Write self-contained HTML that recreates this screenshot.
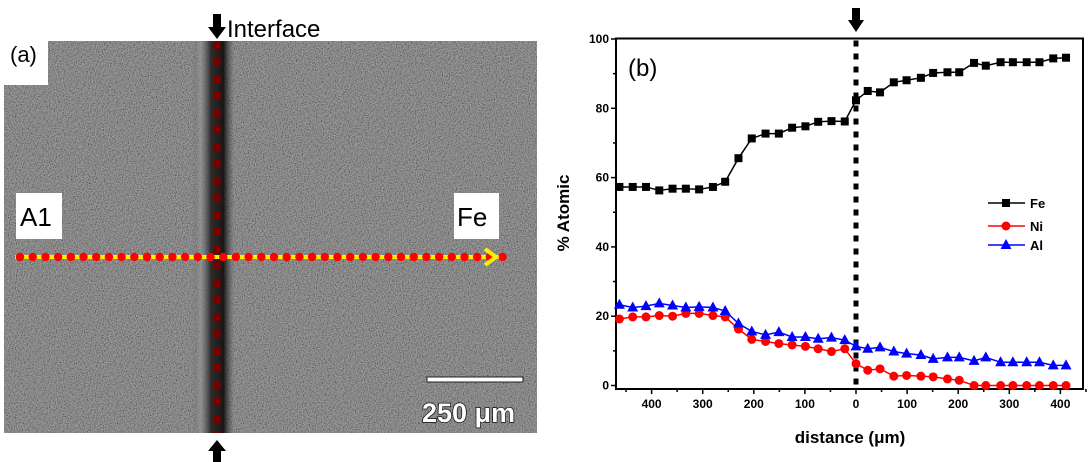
<!DOCTYPE html>
<html><head><meta charset="utf-8">
<style>
body{margin:0;width:1092px;height:462px;background:#fff;overflow:hidden;font-family:"Liberation Sans",Arial,sans-serif}
svg{position:absolute;left:0;top:0}
</style></head>
<body>
<svg width="1092" height="462">
<defs>
<filter id="noise" x="0" y="0" width="100%" height="100%">
<feTurbulence type="fractalNoise" baseFrequency="0.85" numOctaves="2" seed="3"/>
<feColorMatrix type="matrix" values="1.3 0 0 0 -0.28  1.3 0 0 0 -0.28  1.3 0 0 0 -0.28  0 0 0 0 0.45"/>
</filter>
<clipPath id="semclip"><path d="M48 41 H537 V433 H4 V85 H48 Z"/></clipPath>
<linearGradient id="band" x1="0" x2="1" y1="0" y2="0">
<stop offset="0" stop-color="#555" stop-opacity="0"/>
<stop offset="0.2" stop-color="#999" stop-opacity="0.6"/>
<stop offset="0.45" stop-color="#222" stop-opacity="0.9"/>
<stop offset="0.75" stop-color="#111" stop-opacity="0.95"/>
<stop offset="1" stop-color="#444" stop-opacity="0"/>
</linearGradient>
</defs>
<g>
<path d="M48 41 H537 V433 H4 V85 H48 Z" fill="#727272"/>
<g clip-path="url(#semclip)"><rect x="4" y="41" width="533" height="392" fill="#727272" filter="url(#noise)"/></g>
<rect x="192" y="41" width="42" height="392" fill="url(#band)"/>
<text x="10" y="62" font-size="22" fill="#000">(a)</text>
<rect x="16" y="193" width="46" height="46" fill="#fff"/>
<text x="20" y="226" font-size="26" fill="#000">A1</text>
<rect x="454" y="193" width="45" height="46" fill="#fff"/>
<text x="457" y="226" font-size="26" fill="#000">Fe</text>
<line x1="217" y1="41" x2="217" y2="433" stroke="#7a0000" stroke-width="7" stroke-dasharray="8,9"/>
<line x1="15" y1="257" x2="500" y2="257" stroke="#ffee00" stroke-width="4"/>
<g id="scandots"></g>
<path d="M485 249 L496 257 L485 265" fill="none" stroke="#ffee00" stroke-width="4"/>
<rect x="427" y="377" width="96" height="5" fill="#fff" stroke="#222" stroke-width="1"/>
<text x="422" y="422" font-size="27" font-weight="bold" fill="#fff" stroke="#111" stroke-width="1.5" paint-order="stroke">250 μm</text>
<path d="M213 14 H221 V27 H226 L217 39 L208 27 H213 Z" fill="#000"/>
<path d="M213 462 H221 V451 H226 L217 440 L208 451 H213 Z" fill="#000"/>
<text x="227" y="37" font-size="24" fill="#000">Interface</text>
</g>
<g id="chart"></g>
</svg>
<script>
const distances=[-463,-437,-411,-385,-359,-333,-307,-280,-256,-230,-204,-177,-151,-125,-99,-74,-48,-22,0,23,47,74,99,127,151,179,202,231,254,283,307,334,359,386,411];
const feValues=[57.3,57.3,57.3,56.3,56.8,56.8,56.6,57.3,58.8,65.6,71.3,72.7,72.7,74.4,74.8,76.1,76.3,76.2,82.3,85,84.6,87.5,88.1,88.8,90.2,90.4,90.4,93.1,92.3,93.3,93.3,93.3,93.3,94.4,94.6];
const niValues=[19.2,19.8,19.8,20.2,20.0,20.8,20.8,20.2,19.8,16.3,13.3,12.7,12.1,11.7,11.3,10.6,9.8,10.6,6.3,4.4,4.8,2.7,2.9,2.7,2.5,1.9,1.5,0,0,0,0,0,0,0,0];
const alValues=[23.3,22.5,22.9,23.7,23.1,22.5,22.7,22.5,21.5,17.9,15.6,14.6,15.4,14.0,14.0,13.5,13.8,13.1,11.3,10.6,11.0,9.8,9.2,8.8,7.7,8.1,8.1,7.1,8.1,6.7,6.7,6.7,6.7,5.8,5.8];
const xTicks=[-400,-300,-200,-100,0,100,200,300,400];
const yTicks=[0,20,40,60,80,100];

const NS="http://www.w3.org/2000/svg";
function mk(tag,attrs,parent){const e=document.createElementNS(NS,tag);for(const k in attrs)e.setAttribute(k,attrs[k]);parent.appendChild(e);return e;}
const L=616,R=1083,T=38.5,B=389;
const xs=d=>856+d*0.511;
const ys=v=>385.5-v*3.465;
const g=document.getElementById('chart');

const sd=document.getElementById('scandots');
for(let x=20;x<=506;x+=12.7){const c=mk('circle',{cx:x,cy:257,r:4.2,fill:'#ff0000'},sd);

}

const frame=mk('rect',{x:L,y:T,width:R-L,height:B-T,fill:'none',stroke:'#000','stroke-width':2},g);


yTicks.forEach(v=>{
  mk('line',{x1:L,x2:L-5,y1:ys(v),y2:ys(v),stroke:'#000','stroke-width':1.5},g);
  const t=mk('text',{x:L-7,y:ys(v)+4,'text-anchor':'end','font-size':12,'font-weight':'bold'},g);
  t.textContent=v;
  
  
  if(v<100) mk('line',{x1:L,x2:L-3,y1:ys(v+10),y2:ys(v+10),stroke:'#000','stroke-width':1.5},g);
});
xTicks.forEach(v=>{
  mk('line',{x1:xs(v),x2:xs(v),y1:B,y2:B+5,stroke:'#000','stroke-width':1.5},g);
  mk('line',{x1:xs(v+50),x2:xs(v+50),y1:B,y2:B+3,stroke:'#000','stroke-width':1.5},g);
  const t=mk('text',{x:xs(v),y:B+19,'text-anchor':'middle','font-size':12,'font-weight':'bold'},g);
  t.textContent=Math.abs(v);
  
  
});
mk('line',{x1:xs(-450),x2:xs(-450),y1:B,y2:B+3,stroke:'#000','stroke-width':1.5},g);
const xl=mk('text',{x:850,y:443,'text-anchor':'middle','font-size':17,'font-weight':'bold'},g);
xl.textContent='distance (μm)';


const yl=mk('text',{x:0,y:0,'text-anchor':'middle','font-size':17,'font-weight':'bold',transform:'translate(569,213) rotate(-90)'},g);
yl.textContent='% Atomic';


const pb=mk('text',{x:628,y:76,'font-size':24},g);
pb.textContent='(b)';


const dl=mk('line',{x1:xs(0),x2:xs(0),y1:T+2,y2:B,stroke:'#000','stroke-width':5,'stroke-dasharray':'6,7'},g);


mk('path',{d:`M${xs(0)-4} 8 H${xs(0)+4} V20 H${xs(0)+8} L${xs(0)} 32 L${xs(0)-8} 20 H${xs(0)-4} Z`,fill:'#000'},g);

function marker(type,x,y,color,parent){
  if(type==='sq') return mk('rect',{x:x-4,y:y-4,width:8,height:8,fill:color},parent);
  if(type==='ci') return mk('circle',{cx:x,cy:y,r:4.5,fill:color},parent);
  return mk('path',{d:`M${x} ${y-6} L${x+5.5} ${y+4} L${x-5.5} ${y+4} Z`,fill:color},parent);
}
const series=[['fe',feValues,'#000','sq'],['ni',niValues,'#ff0000','ci'],['al',alValues,'#0000ff','tr']];
series.forEach(([n,vals,col,m])=>{
  const sg=mk('g',{},g);
  
  
  const pl=mk('polyline',{points:vals.map((v,i)=>xs(distances[i])+','+ys(v)).join(' '),fill:'none',stroke:col,'stroke-width':1.5},sg);
  
  
  vals.forEach((v,i)=>{const p=marker(m,xs(distances[i]),ys(v),col,sg);
    
    });
});
const legend=[['Fe','#000','sq',203],['Ni','#ff0000','ci',226],['Al','#0000ff','tr',245]];
legend.forEach(([lab,col,m,y])=>{
  const lg=mk('g',{},g);
  
  
  mk('line',{x1:988,x2:1025,y1:y,y2:y,stroke:col,'stroke-width':1.5},lg);
  marker(m,1006,y,col,lg);
  const t=mk('text',{x:1030,y:y+5,'font-size':13,'font-weight':'bold'},lg);
  t.textContent=lab;
});
</script>
</body></html>
